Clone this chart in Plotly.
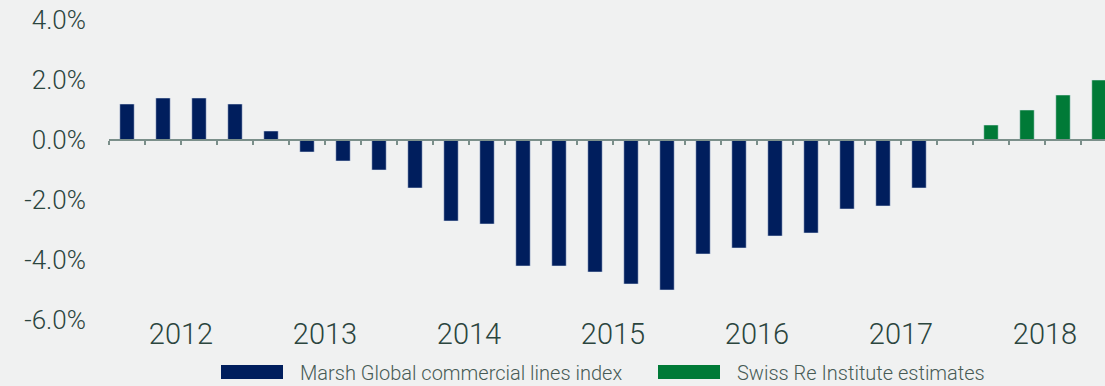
import plotly.graph_objects as go

# ---- data ----
years = ["2012", "2013", "2014", "2015", "2016", "2017", "2018"]
quarters = [f"{y} Q{q}" for y in years for q in range(1, 5)]
marsh_values = [1.2, 1.4, 1.4, 1.2, 0.3, -0.4, -0.7, -1.0,
                -1.6, -2.7, -2.8, -4.2, -4.2, -4.4, -4.8, -5.0,
                -3.8, -3.6, -3.2, -3.1, -2.3, -2.2, -1.6, None,
                None, None, None, None]
swiss_values = [None] * 24 + [0.5, 1.0, 1.5, 2.0]
y_ticks = [-6, -4, -2, 0, 2, 4]
y_tick_labels = ["-6.0%", "-4.0%", "-2.0%", "0.0%", "2.0%", "4.0%"]
series_names = ["Marsh Global commercial lines index", "Swiss Re Institute estimates"]

# ---- style ----
NAVY = "#001e5d"
GREEN = "#007a37"
BG = "#f0f1f1"
TEXT = "#2b453e"
LEGEND_TEXT = "#475b55"
AXIS = "#7b8f8a"
FONT = "Roboto"
WEIGHT = 300

W, H = 1105, 386
ML, MR, MT, MB = 109, 0, 20, 66
PW, PH = W - ML - MR, H - MT - MB

xs = list(range(len(quarters)))
x_range = [-0.5, -0.5 + PW / 36.0]

fig = go.Figure()
fig.add_trace(go.Bar(x=xs, y=marsh_values, name=series_names[0], marker_color=NAVY,
                     width=0.4, showlegend=False, hovertext=quarters))
fig.add_trace(go.Bar(x=xs, y=swiss_values, name=series_names[1], marker_color=GREEN,
                     width=0.4, showlegend=False, hovertext=quarters, xaxis="x2"))

year_centers = [4 * i + 1.5 for i in range(len(years))]
boundaries = [i - 0.5 for i in range(len(quarters) + 1)]
zero_frac = (0 - y_ticks[0]) / (y_ticks[-1] - y_ticks[0])

fig.update_layout(
    width=W, height=H,
    margin=dict(l=ML, r=MR, t=MT, b=MB, pad=0),
    paper_bgcolor=BG, plot_bgcolor=BG,
    barmode="overlay",
    font=dict(family=FONT, color=TEXT, weight=WEIGHT),
    xaxis=dict(range=x_range, tickmode="array", tickvals=year_centers, ticktext=years,
               showline=False, showgrid=False, zeroline=False, ticks="",
               tickfont=dict(size=29, color=TEXT, weight=WEIGHT), ticklabelstandoff=-6),
    xaxis2=dict(range=x_range, overlaying="x", anchor="free", position=zero_frac,
                side="bottom", showline=True, linecolor=AXIS, linewidth=2,
                ticks="outside", tickvals=boundaries, ticklen=4, tickwidth=2,
                tickcolor=AXIS, showticklabels=False, showgrid=False, zeroline=False),
    yaxis=dict(range=[y_ticks[0], y_ticks[-1]], tickmode="array", tickvals=y_ticks,
               ticktext=y_tick_labels, showgrid=False, zeroline=False, showline=False,
               ticks="", tickfont=dict(size=26, color=TEXT, weight=WEIGHT),
               ticklabelstandoff=22),
)

# ---- manual legend (wide swatches) ----
def px(x):
    return (x - ML) / PW

def py(y):
    return (MT + PH - y) / PH

legend_items = [
    (series_names[0], NAVY, 221, 283, 298),
    (series_names[1], GREEN, 658, 720, 735),
]
for name, color, x0, x1, tx in legend_items:
    fig.add_shape(type="rect", xref="paper", yref="paper",
                  x0=px(x0), x1=px(x1), y0=py(379), y1=py(365),
                  fillcolor=color, line=dict(width=0))
    fig.add_annotation(text=name, xref="paper", yref="paper", x=px(tx), y=py(373),
                       xanchor="left", yanchor="middle", showarrow=False,
                       font=dict(size=20, color=LEGEND_TEXT, family=FONT, weight=WEIGHT))

fig.write_html("out.html")
